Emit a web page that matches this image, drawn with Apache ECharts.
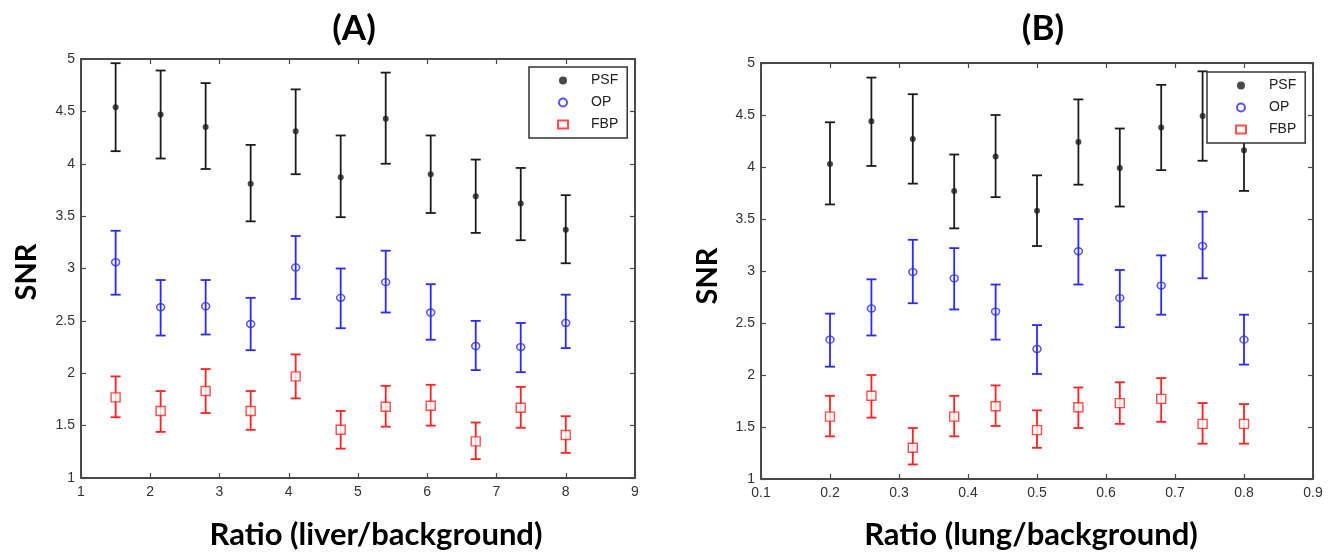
<!DOCTYPE html>
<html><head><meta charset="utf-8">
<script src="https://cdn.jsdelivr.net/npm/echarts@6/dist/echarts.min.js"></script>
<style>html,body{margin:0;padding:0;background:#fff}#c{width:1332px;height:553px}</style>
</head><body><div id="c"></div>
<script>
// ---- data ----
const seriesNames = ['PSF', 'OP', 'FBP'];
const yTicks = [1, 1.5, 2, 2.5, 3, 3.5, 4, 4.5, 5];
const xTicksA = [1, 2, 3, 4, 5, 6, 7, 8, 9];
const xTicksB = [0.1, 0.2, 0.3, 0.4, 0.5, 0.6, 0.7, 0.8, 0.9];

// Panel A: Ratio (liver/background)
const xA = [1.5, 2.15, 2.8, 3.45, 4.1, 4.75, 5.4, 6.05, 6.7, 7.35, 8.0];
const psfA     = [4.54, 4.47, 4.35, 3.81, 4.31, 3.87, 4.43, 3.90, 3.69, 3.62, 3.37];
const psfALow  = [4.12, 4.05, 3.95, 3.45, 3.90, 3.49, 4.00, 3.53, 3.34, 3.27, 3.05];
const psfAHigh = [4.96, 4.89, 4.77, 4.18, 4.71, 4.27, 4.87, 4.27, 4.04, 3.96, 3.70];
const opA      = [3.06, 2.63, 2.64, 2.47, 3.01, 2.72, 2.87, 2.58, 2.26, 2.25, 2.48];
const opALow   = [2.75, 2.36, 2.37, 2.22, 2.71, 2.43, 2.58, 2.32, 2.03, 2.01, 2.24];
const opAHigh  = [3.36, 2.89, 2.89, 2.72, 3.31, 3.00, 3.17, 2.85, 2.50, 2.48, 2.75];
const fbpA     = [1.77, 1.64, 1.83, 1.64, 1.97, 1.46, 1.68, 1.69, 1.35, 1.67, 1.41];
const fbpALow  = [1.58, 1.44, 1.62, 1.46, 1.76, 1.28, 1.49, 1.50, 1.18, 1.48, 1.24];
const fbpAHigh = [1.97, 1.83, 2.04, 1.83, 2.18, 1.64, 1.88, 1.89, 1.53, 1.87, 1.59];

// Panel B: Ratio (lung/background)
const xB = [0.2, 0.26, 0.32, 0.38, 0.44, 0.5, 0.56, 0.62, 0.68, 0.74, 0.8];
const psfB     = [4.03, 4.44, 4.27, 3.77, 4.10, 3.58, 4.24, 3.99, 4.38, 4.49, 4.16];
const psfBLow  = [3.64, 4.01, 3.84, 3.41, 3.71, 3.24, 3.83, 3.62, 3.97, 4.06, 3.77];
const psfBHigh = [4.43, 4.86, 4.70, 4.12, 4.50, 3.92, 4.65, 4.37, 4.79, 4.92, 4.55];
const opB      = [2.34, 2.64, 2.99, 2.93, 2.61, 2.25, 3.19, 2.74, 2.86, 3.24, 2.34];
const opBLow   = [2.08, 2.38, 2.69, 2.63, 2.34, 2.01, 2.87, 2.46, 2.58, 2.93, 2.10];
const opBHigh  = [2.59, 2.92, 3.30, 3.22, 2.87, 2.48, 3.50, 3.01, 3.15, 3.57, 2.58];
const fbpB     = [1.60, 1.80, 1.30, 1.60, 1.70, 1.47, 1.69, 1.73, 1.77, 1.53, 1.53];
const fbpBLow  = [1.41, 1.59, 1.14, 1.41, 1.51, 1.30, 1.49, 1.53, 1.55, 1.34, 1.34];
const fbpBHigh = [1.80, 2.00, 1.49, 1.80, 1.90, 1.66, 1.88, 1.93, 1.97, 1.73, 1.72];

// ---- styling ----
const colors = { PSF: '#1c1c1c', OP: '#2a2aff', FBP: '#ff2222' };
const axisColor = '#4a4a4a';
const tickFont = { fontFamily: 'Liberation Sans, Arial, sans-serif', fontSize: 14, color: '#333' };
const bigFont = 'Lato, "Open Sans", sans-serif';

function pts(xs, ys) { return xs.map((x, i) => [x, ys[i]]); }
function errs(xs, lo, hi) { return xs.map((x, i) => [x, lo[i], hi[i]]); }

function errRender(color) {
  return function (params, api) {
    const x = api.value(0), lo = api.value(1), hi = api.value(2);
    const p1 = api.coord([x, hi]), p2 = api.coord([x, lo]);
    const w = 5;
    const style = { stroke: color, lineWidth: 1.8 };
    return { type: 'group', children: [
      { type: 'line', shape: { x1: p1[0], y1: p1[1], x2: p2[0], y2: p2[1] }, style: style },
      { type: 'line', shape: { x1: p1[0] - w, y1: p1[1], x2: p1[0] + w, y2: p1[1] }, style: style },
      { type: 'line', shape: { x1: p2[0] - w, y1: p2[1], x2: p2[0] + w, y2: p2[1] }, style: style }
    ]};
  };
}

function xAxis(gi, ticks, pos, showLabel) {
  return {
    type: 'value', gridIndex: gi, position: pos,
    min: ticks[0], max: ticks[ticks.length - 1],
    interval: Math.round((ticks[1] - ticks[0]) * 1000) / 1000,
    axisLine: { show: true, onZero: false, lineStyle: { color: axisColor, width: 2 } },
    axisTick: { show: true, inside: true, length: 5, lineStyle: { color: axisColor, width: 1.2 } },
    axisLabel: Object.assign({ show: showLabel, margin: 7 }, tickFont),
    splitLine: { show: false }
  };
}
function yAxis(gi, pos, showLabel) {
  return {
    type: 'value', gridIndex: gi, position: pos,
    min: yTicks[0], max: yTicks[yTicks.length - 1], interval: 0.5,
    axisLine: { show: true, onZero: false, lineStyle: { color: axisColor, width: 2 } },
    axisTick: { show: true, inside: true, length: 5, lineStyle: { color: axisColor, width: 1.2 } },
    axisLabel: Object.assign({ show: showLabel, margin: 6 }, tickFont),
    splitLine: { show: false }
  };
}

function panelSeries(xi, yi, xs, d) {
  const out = [];
  seriesNames.forEach((n) => {
    const s = d[n];
    out.push({
      name: n + ' error', type: 'custom', xAxisIndex: xi, yAxisIndex: yi,
      renderItem: errRender(colors[n]), data: errs(xs, s.lo, s.hi),
      encode: { x: 0, y: [1, 2] }, z: 3, silent: true
    });
  });
  seriesNames.forEach((n) => {
    const s = d[n];
    const base = { name: n, type: 'scatter', xAxisIndex: xi, yAxisIndex: yi, data: pts(xs, s.m), silent: true };
    if (n === 'PSF') {
      Object.assign(base, { symbol: 'circle', symbolSize: 6, itemStyle: { color: colors.PSF }, z: 4 });
    } else if (n === 'OP') {
      Object.assign(base, { symbol: 'circle', symbolSize: [8, 7], itemStyle: { color: 'rgba(255,255,255,0)', borderColor: colors.OP, borderWidth: 1.4 }, z: 4 });
    } else {
      Object.assign(base, { symbol: 'rect', symbolSize: 9, itemStyle: { color: '#fff', borderColor: colors.FBP, borderWidth: 1.4 }, z: 4 });
    }
    out.push(base);
  });
  return out;
}

function legend(left, top) {
  return {
    data: seriesNames, orient: 'vertical', left: left, top: top,
    backgroundColor: '#fff', borderColor: '#333', borderWidth: 1.5, borderRadius: 0,
    padding: [6, 9, 6, 28], itemGap: 7, itemWidth: 10, itemHeight: 8,
    selectedMode: false, z: 10,
    textStyle: { fontFamily: 'Liberation Sans, Arial, sans-serif', fontSize: 14, color: '#222', padding: [0, 0, 0, 18], lineHeight: 15 }
  };
}

const chart = echarts.init(document.getElementById('c'), null, { renderer: 'canvas' });
const option = {
  animation: false,
  backgroundColor: '#fff',
  grid: [
    { left: 81, right: 697, top: 59, bottom: 75 },
    { left: 761, right: 19, top: 63, bottom: 74 }
  ],
  xAxis: [
    xAxis(0, xTicksA, 'bottom', true), xAxis(1, xTicksB, 'bottom', true),
    xAxis(0, xTicksA, 'top', false), xAxis(1, xTicksB, 'top', false)
  ],
  yAxis: [
    yAxis(0, 'left', true), yAxis(1, 'left', true),
    yAxis(0, 'right', false), yAxis(1, 'right', false)
  ],
  legend: [legend(529, 67), legend(1207, 72)],
  graphic: [
    { type: 'text', x: 354, y: 29, style: { text: '(A)', font: 'bold 35px ' + bigFont, fill: '#000', textAlign: 'center', textVerticalAlign: 'middle' } },
    { type: 'text', x: 1043, y: 29, style: { text: '(B)', font: 'bold 35px ' + bigFont, fill: '#000', textAlign: 'center', textVerticalAlign: 'middle' } },
    { type: 'text', x: 376, y: 535, style: { text: 'Ratio (liver/background)', font: 'bold 31px ' + bigFont, fill: '#000', textAlign: 'center', textVerticalAlign: 'middle' } },
    { type: 'text', x: 1031, y: 535, style: { text: 'Ratio (lung/background)', font: 'bold 31px ' + bigFont, fill: '#000', textAlign: 'center', textVerticalAlign: 'middle' } },
    { type: 'text', x: 27, y: 272, rotation: Math.PI / 2, style: { text: 'SNR', font: 'bold 29px ' + bigFont, fill: '#000', textAlign: 'center', textVerticalAlign: 'middle' } },
    { type: 'text', x: 708, y: 276, rotation: Math.PI / 2, style: { text: 'SNR', font: 'bold 29px ' + bigFont, fill: '#000', textAlign: 'center', textVerticalAlign: 'middle' } }
  ],
  series: [].concat(
    panelSeries(0, 0, xA, {
      PSF: { m: psfA, lo: psfALow, hi: psfAHigh },
      OP: { m: opA, lo: opALow, hi: opAHigh },
      FBP: { m: fbpA, lo: fbpALow, hi: fbpAHigh }
    }),
    panelSeries(1, 1, xB, {
      PSF: { m: psfB, lo: psfBLow, hi: psfBHigh },
      OP: { m: opB, lo: opBLow, hi: opBHigh },
      FBP: { m: fbpB, lo: fbpBLow, hi: fbpBHigh }
    })
  )
};
chart.setOption(option);
</script>
</body></html>
